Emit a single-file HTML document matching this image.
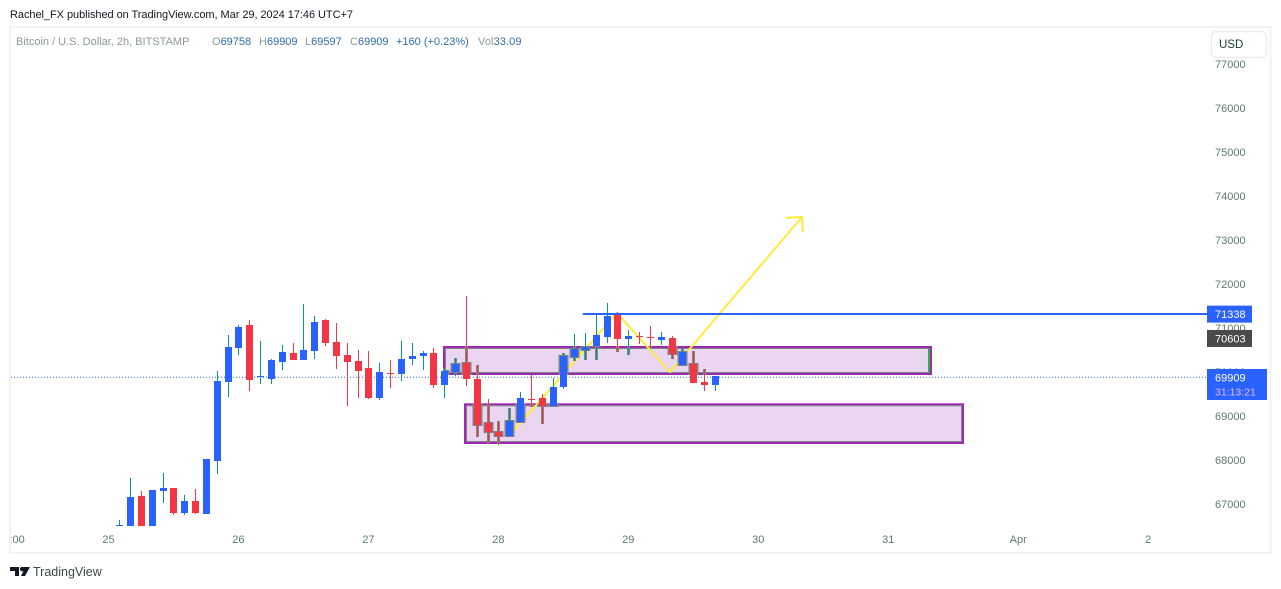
<!DOCTYPE html>
<html lang="en">
<head>
<meta charset="utf-8">
<title>BTC/USD chart</title>
<style>
html,body{margin:0;padding:0;background:#fff;width:1281px;height:589px;overflow:hidden}
svg{display:block}
text{font-family:"Liberation Sans",sans-serif}
</style>
</head>
<body>
<svg id="chart" xmlns="http://www.w3.org/2000/svg" width="1281" height="589" viewBox="0 0 1281 589">
  <rect x="0" y="0" width="1281" height="589" fill="#ffffff"/>
  <text x="10" y="18" font-size="11" textLength="343" lengthAdjust="spacing" fill="#131722">Rachel_FX published on TradingView.com, Mar 29, 2024 17:46 UTC+7</text>
  <rect x="10" y="27" width="1260.5" height="526" fill="none" stroke="#f0f0f6" stroke-width="2"/>
  <g font-size="11">
    <text x="16" y="45" fill="#8a9a94">Bitcoin / U.S. Dollar, 2h, BITSTAMP</text>
    <text x="212" y="45" fill="#2f6ea8"><tspan fill="#8a9a94">O</tspan>69758</text>
    <text x="259" y="45" fill="#2f6ea8"><tspan fill="#8a9a94">H</tspan>69909</text>
    <text x="305" y="45" fill="#2f6ea8"><tspan fill="#8a9a94">L</tspan>69597</text>
    <text x="350" y="45" fill="#2f6ea8"><tspan fill="#8a9a94">C</tspan>69909</text>
    <text x="396" y="45" fill="#2f6ea8">+160 (+0.23%)</text>
    <text x="478" y="45" fill="#2f6ea8" letter-spacing="0.1"><tspan fill="#8a9a94">Vol</tspan>33.09</text>
  </g>
  <g id="plot"></g>
  <g id="y-axis"></g>
  <g id="x-axis"></g>
  <g id="labels"></g>
  <g>
    <rect x="1211.5" y="31.5" width="55" height="26" rx="5" fill="#ffffff" stroke="#ececf2" stroke-width="1.5"/>
    <text x="1219" y="48" font-size="11.5" fill="#1d3a32">USD</text>
  </g>
  <g>
    <path d="M10 567h9v9h-4v-5h-5zM21 567h9l-5 9h-4l2.500-5a2 2 0 0 1-2.500-4z" fill="#131722"/>
    <text x="33" y="576" font-size="12.500" fill="#3c4a47">TradingView</text>
  </g>
</svg>
<script>
// Chart data (BTC/USD 2h candles)
const opens  = [66500,66400,67182,66400,67295,67364,66795,67068,66773,67977,69773,70545,71068,69886,69841,70227,70432,70273,70477,71182,70682,70386,70250,70091,69409,69977,69955,70295,70364,70432,69705,70000,70205,69841,68841,68636,68545,68864,69386,69409,69227,69659,70341,70500,70591,70795,71295,70750,70818,70795,70727,70773,70159,70182,69773,69705];
const highs  = [66636,67591,67295,67318,67705,67364,67205,67341,68023,70023,70841,71068,71182,70705,70295,70614,70659,71546,71273,71205,71114,70659,70500,70477,70205,70273,70705,70659,70477,70545,70091,70318,71727,70159,69386,68886,69182,69545,69932,69500,69864,70432,70864,70886,71318,71568,71364,70955,70909,71045,70909,70818,70545,70477,70068,69909];
const lows   = [66500,66400,66400,66400,67023,66750,66750,66773,66773,67682,69432,70386,69568,69727,69727,70045,70273,70273,70295,70591,70068,69227,69409,69386,69364,69636,69795,70159,70045,69636,69409,69909,69682,68523,68386,68341,68545,68864,69205,68818,69227,69614,70250,70273,70273,70659,70455,70386,70636,70545,70614,70295,70159,69750,69568,69568];
const closes = [66523,67159,66400,67318,67364,66795,67068,66795,68023,69795,70568,71023,69818,69909,70273,70455,70273,70500,71136,70659,70364,70227,70023,69409,70000,69955,70295,70364,70432,69705,70023,70182,69841,68795,68636,68545,68886,69409,69364,69227,69659,70364,70523,70568,70841,71273,70750,70818,70795,70773,70795,70409,70455,69750,69705,69909];
const priceTicks = [77000,76000,75000,74000,73000,72000,71000,70000,69000,68000,67000];
const timeLabels = ["00:00","25","26","27","28","29","30","31","Apr","2"];
const timeBars   = [-10,-1,11,23,35,47,59,71,83,95];
const lastPrice = 69909;
const countdown = "31:13:21";
const lineLevel = 71338;
const avgLevel  = 70603;
// Drawing annotations, in bar index / price
const zoneStartBars = [29.89,31.83];
const zoneEndBars   = [75.04,78.0];
const zoneTopPrices = [70591,69288];
const zoneBottomPrices = [69932,68364];
const pathBars   = [36.07,45.95,50.85,63.03];
const pathPrices = [68568,71341,70000,73523];
const hLineStartBar = 42.8;
const hLinePrice = 71318;

const NS = 'http://www.w3.org/2000/svg';
const x = i => 119.3 + 10.83 * i;
const y = p => 64 + (77000 - p) * 0.044;
const PLOT_L = 11, PLOT_R = 1207, PLOT_T = 28, PLOT_B = 526;
const C_UP = '#2962ff', C_DOWN = '#f23645', C_WICK_UP = '#089981', C_HALO = '#7f8585';

function mk(tag, attrs, parent) {
  const el = document.createElementNS(NS, tag);
  for (const k in attrs) el.setAttribute(k, attrs[k]);
  parent.appendChild(el);
  return el;
}
const plot = document.getElementById('plot');
const defs = mk('defs', {}, plot);
const clipPlot = mk('clipPath', {id: 'plot-clip'}, defs);
mk('rect', {x: PLOT_L, y: PLOT_T, width: PLOT_R - PLOT_L, height: PLOT_B - PLOT_T}, clipPlot);
const clipZone = mk('clipPath', {id: 'zone-clip'}, defs);

// last price dotted line
const lastLine = mk('line', {x1: PLOT_L, x2: PLOT_R, y1: y(lastPrice) + 1.3, y2: y(lastPrice) + 1.3, stroke: '#2962ff', 'stroke-width': 1, 'stroke-dasharray': '1 2'}, plot);



// zones
zoneStartBars.forEach((b, i) => {
  const x0 = x(b), x1 = x(zoneEndBars[i]), y0 = y(zoneTopPrices[i]), y1 = y(zoneBottomPrices[i]);
  const r = mk('rect', {x: x0 + 1, y: y0 + 1, width: x1 - x0 - 2, height: y1 - y0 - 2, fill: '#ead6f0', stroke: '#9c27b0', 'stroke-width': 2}, plot);
  
  
  const g = mk('rect', {x: x0 + 2.5, y: y0 + 2.5, width: x1 - x0 - 5, height: y1 - y0 - 5, fill: 'none', stroke: C_HALO, 'stroke-width': 1}, plot);
  
  
  mk('rect', {x: x0, y: y0, width: x1 - x0, height: y1 - y0}, clipZone);
  if (i === 0) {
    const e = mk('rect', {x: x1 - 4, y: y0 + 2, width: 2, height: y1 - y0 - 4, fill: '#2fb344'}, plot);
    
    
  }
});

// yellow projected path
const pts = pathBars.map((b, i) => x(b) + ',' + y(pathPrices[i])).join(' ');
const path = mk('polyline', {points: pts, fill: 'none', stroke: '#ffeb3b', 'stroke-width': 2}, plot);



// candles
const halo = mk('g', {'clip-path': 'url(#zone-clip)'}, plot);


const candles = mk('g', {'clip-path': 'url(#plot-clip)'}, plot);


opens.forEach((o, i) => {
  const c = closes[i], up = c >= o;
  const cx = Math.round(x(i));
  const top = Math.min(y(o), y(c)), bot = Math.max(y(o), y(c));
  const h = Math.max(bot - top, 1);
  mk('rect', {x: cx - 1, y: y(highs[i]), width: 3, height: y(lows[i]) - y(highs[i]), fill: C_HALO}, halo);
  mk('rect', {x: cx - 4.5, y: top - 1, width: 10, height: h + 2, fill: C_HALO}, halo);
  const wick = mk('rect', {x: cx, y: y(highs[i]), width: 1, height: y(lows[i]) - y(highs[i]), fill: up ? C_WICK_UP : C_DOWN}, candles);
  
  
  const body = mk('rect', {x: cx - 3, y: top, width: 7, height: h, fill: up ? C_UP : C_DOWN}, candles);
  
  
});

// arrow head (on top of the path end)
const tipX = x(pathBars[3]), tipY = y(pathPrices[3]);
const head = mk('polyline', {points: (tipX - 16) + ',' + (tipY + 1) + ' ' + tipX + ',' + tipY + ' ' + (tipX + 1) + ',' + (tipY + 15), fill: 'none', stroke: '#ffeb3b', 'stroke-width': 2}, plot);



// blue horizontal line
const hl = mk('line', {x1: x(hLineStartBar), x2: PLOT_R, y1: y(hLinePrice), y2: y(hLinePrice), stroke: '#2962ff', 'stroke-width': 2}, plot);



// price axis
const yAxis = document.getElementById('y-axis');
priceTicks.forEach(p => {
  const t = mk('text', {x: 1215, y: y(p) + 4, 'font-size': 11, fill: '#5f7a70'}, yAxis);
  
  
  t.textContent = p;
});

// time axis
const xAxis = document.getElementById('x-axis');
const xClip = mk('clipPath', {id: 'x-clip'}, defs);
mk('rect', {x: 11, y: 528, width: 1196, height: 24}, xClip);
xAxis.setAttribute('clip-path', 'url(#x-clip)');
timeLabels.forEach((l, i) => {
  const t = mk('text', {x: x(timeBars[i]), y: 543, 'font-size': 11, fill: '#5f7a70', 'text-anchor': 'middle'}, xAxis);
  
  
  t.textContent = l;
});

// price labels (nudge = label displacement applied by the axis to avoid overlap)
const labels = document.getElementById('labels');
function tag(price, color, width, height, nudge, name) {
  const yc = y(price) + nudge;
  const r = mk('rect', {x: 1207, y: yc - 8.5, width: width, height: height, fill: color}, labels);
  
  
  const t = mk('text', {x: 1215, y: yc + 4, 'font-size': 11, fill: '#ffffff'}, labels);
  
  
  t.textContent = price;
  return yc;
}
tag(lineLevel, '#2962ff', 45, 17, 1, 'resistance-price-label');
tag(avgLevel, '#4a4a4a', 45, 17, -7, 'level-price-label');
const lastY = tag(lastPrice, '#2962ff', 60, 31, 1.5, 'last-price-label');
const cd = mk('text', {x: 1215, y: lastY + 18, 'font-size': 10.5, fill: '#e9b8f5'}, labels);


cd.textContent = countdown;
</script>
</body>
</html>
